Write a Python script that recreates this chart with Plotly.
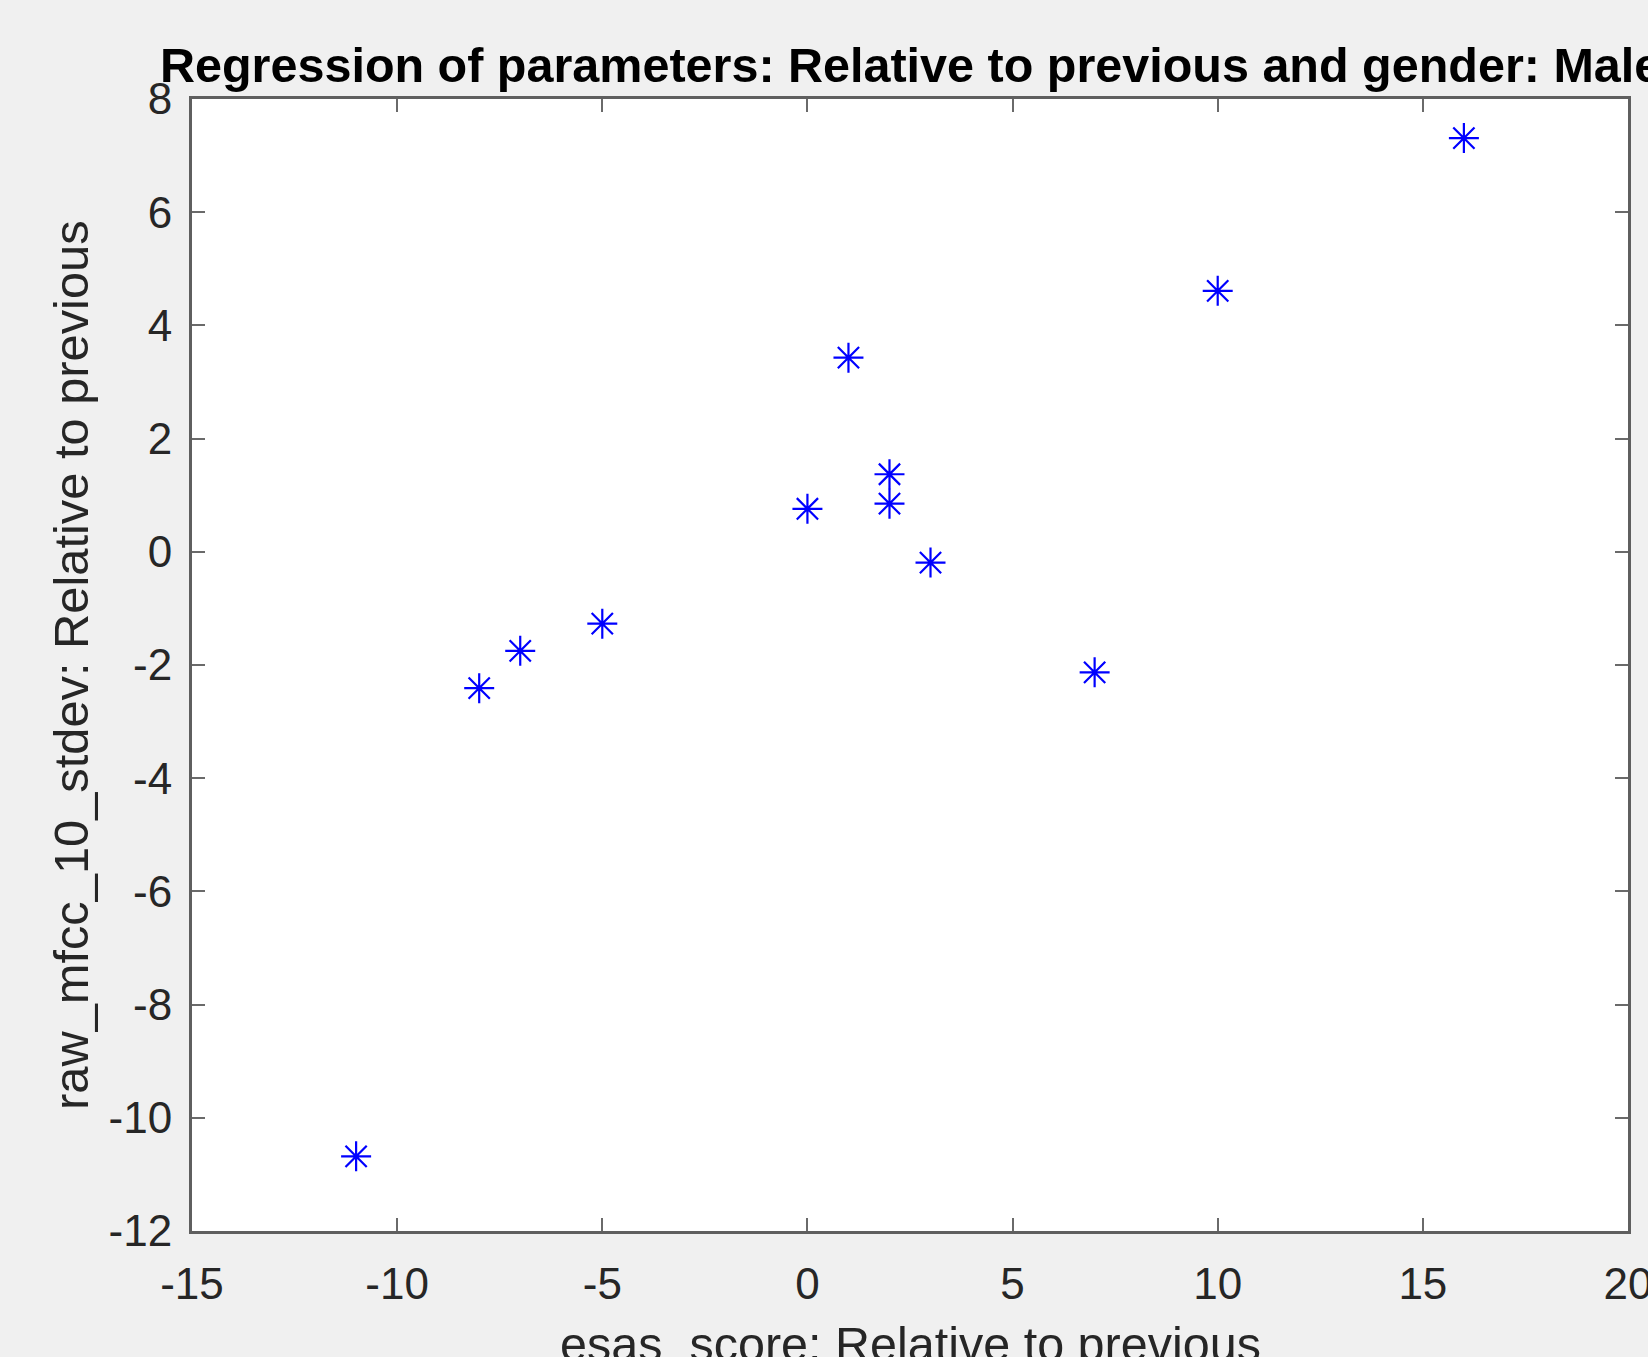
import plotly.graph_objects as go

# Data
esas_score = [-11, -8, -7, -5, 0, 1, 2, 2, 3, 7, 10, 16]
mfcc10_stdev = [-10.68, -2.41, -1.75, -1.27, 0.76, 3.43, 1.37, 0.85, -0.19, -2.13, 4.61, 7.31]

x_ticks = [-15, -10, -5, 0, 5, 10, 15, 20]
y_ticks = [-12, -10, -8, -6, -4, -2, 0, 2, 4, 6, 8]

title_text = "Regression of parameters: Relative to previous and gender: Male"
x_label = "esas_score: Relative to previous"
y_label = "raw_mfcc_10_stdev: Relative to previous"

W, H = 1648, 1357
L, R, T, B = 192, 20, 99, 126

FONT = "Liberation Sans, Arial, Helvetica, sans-serif"
AX_COLOR = "#262626"

fig = go.Figure()
fig.add_trace(go.Scatter(
    x=esas_score, y=mfcc10_stdev, mode="markers",
    marker=dict(symbol="asterisk-open", size=25, color="#0000ff",
                line=dict(color="#0000ff", width=2.2)),
    showlegend=False, hoverinfo="x+y",
))

axis_common = dict(
    showline=True, linecolor="#5f5f5f", linewidth=3, mirror="ticks",
    ticks="inside", ticklen=13, tickwidth=2, tickcolor="#6a6a6a",
    showgrid=False, zeroline=False, ticklabeloverflow="allow",
    automargin=False,
    tickfont=dict(family=FONT, size=44, color=AX_COLOR),
)

fig.update_xaxes(range=[-15, 20], tickvals=x_ticks, ticktext=[str(v) for v in x_ticks],
                 ticklabelstandoff=12, **axis_common)
fig.update_yaxes(range=[-12, 8], tickvals=y_ticks, ticktext=[str(v) for v in y_ticks],
                 ticklabelstandoff=8, **axis_common)

fig.update_layout(
    width=W, height=H,
    margin=dict(l=L, r=R, t=T, b=B, pad=0, autoexpand=False),
    paper_bgcolor="#f0f0f0", plot_bgcolor="#ffffff",
    font=dict(family=FONT),
    annotations=[
        dict(text="<b>" + title_text + "</b>", xref="paper", yref="paper",
             x=0.5, y=1, xanchor="center", yanchor="middle", yshift=34,
             showarrow=False, font=dict(family=FONT, size=48.5, color="#000000")),
        dict(text=x_label, xref="paper", yref="paper",
             x=0.5, y=0, xanchor="center", yanchor="middle", yshift=-113,
             showarrow=False, font=dict(family=FONT, size=48.5, color=AX_COLOR)),
        dict(text=y_label, xref="paper", yref="paper", textangle=-90,
             x=0, y=0.5, xanchor="center", yanchor="middle", xshift=-(L - 71),
             showarrow=False, font=dict(family=FONT, size=48.8, color=AX_COLOR)),
    ],
)

fig.write_html("out.html", config={"displayModeBar": False},
               post_script="document.body.style.margin='0';document.body.style.background='#f0f0f0';")
